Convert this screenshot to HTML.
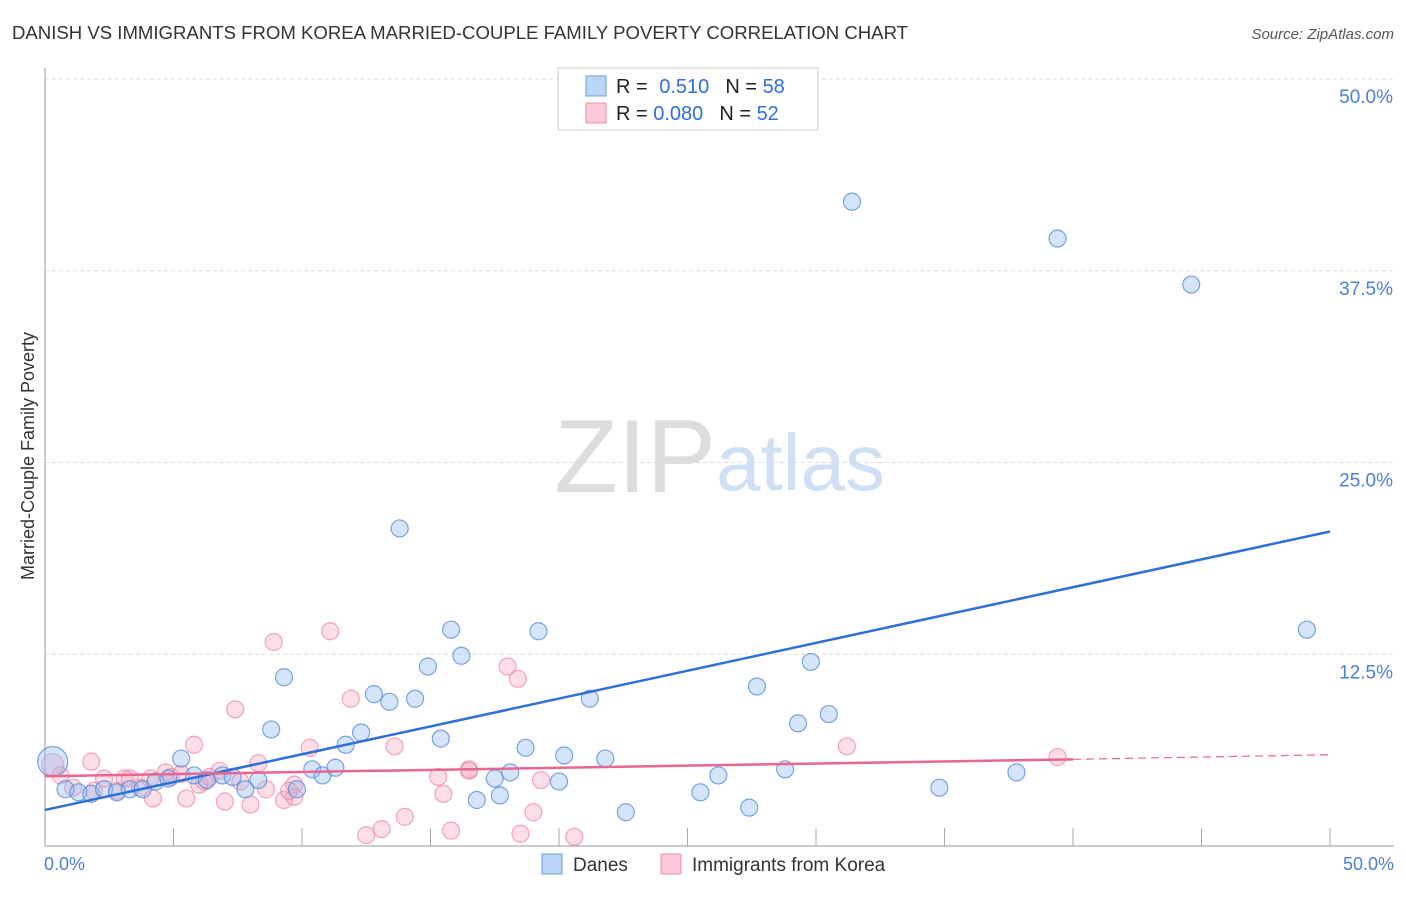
<!DOCTYPE html>
<html><head><meta charset="utf-8"><style>
body{margin:0;background:#fff;font-family:"Liberation Sans",sans-serif}
svg text{font-family:"Liberation Sans",sans-serif}
</style></head><body>
<svg id="c" width="1406" height="892">
<text x="12" y="39" font-size="18.6" fill="#333" textLength="896">DANISH VS IMMIGRANTS FROM KOREA MARRIED-COUPLE FAMILY POVERTY CORRELATION CHART</text>
<text x="1394" y="39" font-size="15" fill="#555" font-style="italic" text-anchor="end">Source: ZipAtlas.com</text>
<text x="716" y="492" font-size="104" fill="#ddd" text-anchor="end" font-family="Liberation Serif">ZIP</text>
<text x="716" y="490" font-size="80" fill="#cfe0f5">atlas</text>
<g id="grid"></g>
<line x1="45" y1="68" x2="45" y2="846" stroke="#999"/>
<line x1="45" y1="846" x2="1394" y2="846" stroke="#999"/>
<text transform="translate(34,456) rotate(-90)" font-size="18" fill="#333" text-anchor="middle">Married-Couple Family Poverty</text>
<text x="44" y="870" font-size="18" fill="#4a7fd4">0.0%</text>
<text x="1394" y="870" font-size="18" fill="#4a7fd4" text-anchor="end">50.0%</text>
<g id="pts"></g>
<g id="lines"></g>
<rect x="558" y="68" width="260" height="62" fill="#fff" stroke="#ccc"/>
<rect x="586" y="76" width="20" height="20" fill="#bcd4f5" stroke="#6a9de0"/>
<rect x="586" y="103" width="20" height="20" fill="#fbc9d8" stroke="#ec8fab"/>
<text x="616" y="93" font-size="20" fill="#222">R = <tspan fill="#2e6fd8" dx="6">0.510</tspan><tspan dx="16">N = </tspan><tspan fill="#2e6fd8">58</tspan></text>
<text x="616" y="120" font-size="20" fill="#222">R = <tspan fill="#2e6fd8" dx="0">0.080</tspan><tspan dx="16">N = </tspan><tspan fill="#2e6fd8">52</tspan></text>
<rect x="542" y="854" width="20" height="20" fill="#bcd4f5" stroke="#6a9de0"/>
<text x="573" y="871" font-size="19" fill="#333">Danes</text>
<rect x="661" y="854" width="20" height="20" fill="#fbc9d8" stroke="#ec8fab"/>
<text x="692" y="871" font-size="19" fill="#333">Immigrants from Korea</text>
</svg>
<script>
const yTicks=[12.5,25,37.5,50];
const yTickLabels=["12.5%","25.0%","37.5%","50.0%"];
const xTicks=[5,10,15,20,25,30,35,40,45,50];
const danesX=[0.3,0.8,1.3,1.8,2.3,2.8,3.3,3.8,4.3,4.8,5.3,5.8,6.3,6.9,7.3,7.8,8.3,8.8,9.3,9.8,10.4,10.8,11.3,11.7,12.3,12.8,13.4,13.8,14.4,14.9,15.4,15.8,16.2,16.8,17.5,17.7,18.1,18.7,19.2,20.0,20.2,21.2,21.8,22.6,25.5,26.2,27.4,27.7,28.8,29.3,29.8,30.5,31.4,34.8,37.8,39.4,44.6,49.1];
const danesY=[5.5,3.7,3.5,3.4,3.7,3.5,3.7,3.7,4.2,4.4,5.7,4.6,4.3,4.6,4.5,3.7,4.3,7.6,11.0,3.7,5.0,4.6,5.1,6.6,7.4,9.9,9.4,20.7,9.6,11.7,7.0,14.1,12.4,3.0,4.4,3.3,4.8,6.4,14.0,4.2,5.9,9.6,5.7,2.2,3.5,4.6,2.5,10.4,5.0,8.0,12.0,8.6,42.0,3.8,4.8,39.6,36.6,14.1];
const koreaX=[0.3,0.6,1.1,1.8,2.3,2.8,3.1,3.7,4.1,4.2,4.9,5.3,5.5,5.8,6.2,6.4,6.8,7.0,7.4,7.6,8.0,8.3,8.6,8.9,9.3,9.7,9.7,10.3,11.1,11.9,12.5,13.1,13.6,14.0,15.3,15.5,15.8,16.5,16.5,18.0,18.4,18.5,19.0,19.3,20.6,31.2,39.4,1.9,4.7,3.3,6.0,9.5];
const koreaY=[5.3,4.6,3.8,5.5,4.4,3.6,4.4,3.8,4.4,3.1,4.5,4.7,3.1,6.6,4.2,4.5,4.9,2.9,8.9,4.2,2.7,5.4,3.7,13.3,3.0,4.0,3.2,6.4,14.0,9.6,0.7,1.1,6.5,1.9,4.5,3.4,1.0,5.0,4.9,11.7,10.9,0.8,2.2,4.3,0.6,6.5,5.8,3.6,4.8,4.4,4.0,3.6];
const blueLine=[[0,2.35],[50,20.5]];
const pinkLine=[[0,4.55],[40,5.65]];
const pinkDash=[[40,5.65],[50,5.95]];
const NS="http://www.w3.org/2000/svg";
const X=v=>45+v/50*1285, Y=v=>846-v/50*767;
function mk(t,a,p){const e=document.createElementNS(NS,t);for(const k in a)e.setAttribute(k,a[k]);p.appendChild(e);return e;}
const g=document.getElementById('grid');
yTicks.forEach((t,i)=>{
 const l=mk('line',{x1:45,x2:1394,y1:Y(t),y2:Y(t),stroke:'#ddd','stroke-dasharray':'4,3'},g);
 
 
 const tx=mk('text',{x:1393,y:Y(t)+24,'font-size':19,fill:'#4a7fd4','text-anchor':'end'},g);
 tx.textContent=yTickLabels[i];
 
 
});
xTicks.forEach(t=>{
 const l=mk('line',{x1:X(t),x2:X(t),y1:828,y2:846,stroke:'#aaa'},g);
 
 
});
const p=document.getElementById('pts');
koreaX.forEach((x,i)=>{
 const c=mk('circle',{cx:X(x),cy:Y(koreaY[i]),r:i==0?11:8.5,fill:'rgba(245,160,185,0.35)',stroke:'rgba(236,130,160,0.7)','stroke-width':1.2},p);
 
 
});
danesX.forEach((x,i)=>{
 const c=mk('circle',{cx:X(x),cy:Y(danesY[i]),r:i==0?15:8.5,fill:'rgba(150,190,240,0.4)',stroke:'rgba(80,135,215,0.75)','stroke-width':1.2},p);
 
 
});
const L=document.getElementById('lines');
const b=mk('line',{x1:X(blueLine[0][0]),y1:Y(blueLine[0][1]),x2:X(blueLine[1][0]),y2:Y(blueLine[1][1]),stroke:'#2e6fd8','stroke-width':2.5},L);


const pk=mk('line',{x1:X(pinkLine[0][0]),y1:Y(pinkLine[0][1]),x2:X(pinkLine[1][0]),y2:Y(pinkLine[1][1]),stroke:'#e8668f','stroke-width':2.5},L);


const pd=mk('line',{x1:X(pinkDash[0][0]),y1:Y(pinkDash[0][1]),x2:X(pinkDash[1][0]),y2:Y(pinkDash[1][1]),stroke:'#e8668f','stroke-width':1.2,'stroke-dasharray':'8,5'},L);


</script>
</body></html>
